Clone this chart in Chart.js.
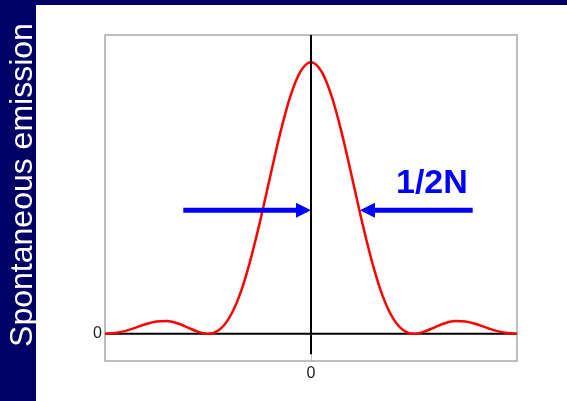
<!DOCTYPE html>
<html>
<head>
<meta charset="utf-8">
<script src="https://cdn.jsdelivr.net/npm/chart.js@4"></script>
<style>
    html, body { margin: 0; padding: 0; background: #fff; }
    #area { position: relative; width: 567px; height: 401px; }
</style>
</head>
<body>
<div id="area"><canvas id="grafico" width="567" height="401"></canvas></div>
<script>
// --- DADOS ---
// desvio de frequência (em unidades do primeiro zero)
const desvios = [-2.0, -1.9, -1.8, -1.7, -1.6, -1.5, -1.4, -1.3, -1.2, -1.1, -1.0,
                 -0.9, -0.8, -0.7, -0.6, -0.5, -0.4, -0.3, -0.2, -0.1, 0.0,
                  0.1, 0.2, 0.3, 0.4, 0.5, 0.6, 0.7, 0.8, 0.9, 1.0,
                  1.1, 1.2, 1.3, 1.4, 1.5, 1.6, 1.7, 1.8, 1.9, 2.0];
// intensidade da emissão espontânea (normalizada)
const emissao = [0, 0.003, 0.011, 0.023, 0.036, 0.045, 0.047, 0.039, 0.024, 0.008, 0,
                 0.012, 0.055, 0.135, 0.255, 0.405, 0.573, 0.737, 0.875, 0.967, 1,
                 0.967, 0.875, 0.737, 0.573, 0.405, 0.255, 0.135, 0.055, 0.012, 0,
                 0.008, 0.024, 0.039, 0.047, 0.045, 0.036, 0.023, 0.011, 0.003, 0];
const ticksX = [0];
const ticksY = [0];

// setas da largura 1/2N (em unidades do gráfico)
const setaEsquerda = [-1.24, 0];
const setaDireita = [1.57, 0.475];
const alturaSetas = 0.455;
const rotuloLargura = '1/2N';

const fonte = '"Liberation Sans", Arial, sans-serif';

function desenharSeta(ctx, xCauda, xPonta, yPix) {
    const dir = Math.sign(xPonta - xCauda);
    const cabeca = 15, meia = 7.5;
    ctx.lineWidth = 5;
    ctx.beginPath();
    ctx.moveTo(xCauda, yPix);
    ctx.lineTo(xPonta - dir * cabeca, yPix);
    ctx.stroke();
    ctx.beginPath();
    ctx.moveTo(xPonta, yPix);
    ctx.lineTo(xPonta - dir * cabeca, yPix - meia);
    ctx.lineTo(xPonta - dir * cabeca, yPix + meia);
    ctx.closePath();
    ctx.fill();
}

// Faixas azuis, título lateral, moldura e setas
const moldura = {
    id: 'moldura',
    beforeDraw(chart) {
        const ctx = chart.ctx;
        ctx.save();
        ctx.fillStyle = '#fff';
        ctx.fillRect(0, 0, chart.width, chart.height);
        ctx.fillStyle = '#000066';
        ctx.fillRect(0, 0, 36, chart.height);
        ctx.fillRect(0, 0, chart.width, 5);
        ctx.translate(32, 185);
        ctx.rotate(-Math.PI / 2);
        ctx.fillStyle = '#fff';
        ctx.font = '32px ' + fonte;
        ctx.textAlign = 'center';
        ctx.textBaseline = 'alphabetic';
        ctx.fillText('Spontaneous emission', 0, 0);
        ctx.restore();
    },
    beforeDatasetsDraw(chart) {
        const { ctx, chartArea: a } = chart;
        ctx.save();
        ctx.strokeStyle = '#a8a8a8';
        ctx.lineWidth = 1.5;
        ctx.strokeRect(a.left, a.top, a.right - a.left, a.bottom - a.top);
        ctx.restore();
    },
    afterDatasetsDraw(chart) {
        const { ctx, scales: { x, y } } = chart;
        ctx.save();
        ctx.strokeStyle = '#0000ff';
        ctx.fillStyle = '#0000ff';
        const yPix = y.getPixelForValue(alturaSetas);
        desenharSeta(ctx, x.getPixelForValue(setaEsquerda[0]), x.getPixelForValue(setaEsquerda[1]), yPix);
        desenharSeta(ctx, x.getPixelForValue(setaDireita[0]), x.getPixelForValue(setaDireita[1]), yPix);
        ctx.font = 'bold 34px ' + fonte;
        ctx.textAlign = 'left';
        ctx.textBaseline = 'alphabetic';
        ctx.fillText(rotuloLargura, x.getPixelForValue(0.825), y.getPixelForValue(0.52));
        ctx.restore();
    }
};

document.addEventListener('DOMContentLoaded', () => {
    const ctx = document.getElementById('grafico').getContext('2d');

    new Chart(ctx, {
        type: 'line',
        data: {
            datasets: [
                {
                    // eixo vertical em zero
                    data: [{ x: 0, y: -0.075 }, { x: 0, y: 1.1 }],
                    borderColor: '#000',
                    borderWidth: 2,
                    pointRadius: 0,
                    order: 0
                },
                {
                    data: desvios.map((d, i) => ({ x: d, y: emissao[i] })),
                    borderColor: '#ff0000',
                    borderWidth: 2.5,
                    pointRadius: 0,
                    cubicInterpolationMode: 'monotone',
                    order: 1
                },
                {
                    // linha de base
                    data: [{ x: -2, y: 0 }, { x: 2, y: 0 }],
                    borderColor: '#000',
                    borderWidth: 2,
                    pointRadius: 0,
                    order: 2
                }
            ]
        },
        options: {
            responsive: false,
            animation: false,
            layout: { padding: { left: 0, top: 35, right: 50, bottom: 0 } },
            plugins: { legend: { display: false }, tooltip: { enabled: false } },
            scales: {
                x: {
                    type: 'linear',
                    min: -2,
                    max: 2,
                    afterFit: (s) => { s.height = 40; },
                    afterBuildTicks: (s) => { s.ticks = ticksX.map(v => ({ value: v })); },
                    grid: { color: '#c8c8c8', drawTicks: false },
                    border: { display: false },
                    ticks: { color: '#222', padding: 3, font: { family: fonte, size: 16 } }
                },
                y: {
                    min: -0.1,
                    max: 1.1,
                    afterFit: (s) => { s.width = 105; },
                    afterBuildTicks: (s) => { s.ticks = ticksY.map(v => ({ value: v })); },
                    grid: { display: false, drawTicks: false },
                    border: { display: false },
                    ticks: { color: '#222', padding: 3, font: { family: fonte, size: 16 } }
                }
            }
        },
        plugins: [moldura]
    });
});
</script>
</body>
</html>
